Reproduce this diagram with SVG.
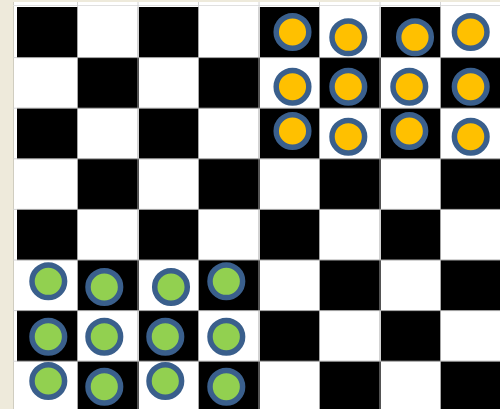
<svg xmlns="http://www.w3.org/2000/svg" width="500" height="409" viewBox="0 0 500 409">
<defs>
<style>
.grid{stroke:#a6a6a6;stroke-width:1;fill:none}
.tick{stroke:#d4d4d4;stroke-width:1;fill:none}
.y{fill:#ffc000;stroke:#3a5f8c;stroke-width:5.5}
.g{fill:#92d050;stroke:#3a5f8c;stroke-width:5.5}
</style>
<pattern id="board" x="17" y="7" width="121" height="101.2" patternUnits="userSpaceOnUse">
<rect width="121" height="101.2" fill="#fff"/>
<rect x="0" y="0" width="60.5" height="50.6" fill="#000"/>
<rect x="60.5" y="50.6" width="60.5" height="50.6" fill="#000"/>
</pattern>
</defs>
<rect width="500" height="409" fill="#fff"/>
<rect x="0" y="0" width="13" height="409" fill="#eeeadb"/>
<rect x="0" y="0" width="500" height="2" fill="#eeeadb"/>
<line x1="13.5" y1="2" x2="13.5" y2="409" stroke="#d0cdc0"/>
<line x1="13" y1="5.5" x2="500" y2="5.5" stroke="#e0e0e0"/>
<g id="header-ticks" class="tick">
<path d="M77.5 2V7M138 2V7M198.5 2V7M259 2V7M319.5 2V7M380 2V7M440.5 2V7M13 57.6H17M13 108.2H17M13 158.8H17M13 209.4H17M13 260H17M13 310.6H17M13 361.2H17"/>
</g>
<g id="board-squares">
<rect x="17" y="7" width="483" height="402" fill="url(#board)"/>
</g>
<g id="grid" class="grid">
<path d="M77.5 7V409M138 7V409M198.5 7V409M259 7V409M319.5 7V409M380 7V409M440.5 7V409M17 57.6H500M17 108.2H500M17 158.8H500M17 209.4H500M17 260H500M17 310.6H500M17 361.2H500"/>
</g>
<g id="yellow-pieces">
<circle id="y1" class="y" cx="292.5" cy="32" r="16.3"/>
<circle id="y2" class="y" cx="348.3" cy="37.3" r="16.3"/>
<circle id="y3" class="y" cx="415" cy="37.3" r="16.3"/>
<circle id="y4" class="y" cx="470.7" cy="32" r="16.3"/>
<circle id="y5" class="y" cx="292.5" cy="86.7" r="16.3"/>
<circle id="y6" class="y" cx="348.3" cy="86.7" r="16.3"/>
<circle id="y7" class="y" cx="409.3" cy="86.7" r="16.3"/>
<circle id="y8" class="y" cx="470.7" cy="86.7" r="16.3"/>
<circle id="y9" class="y" cx="292.5" cy="131" r="16.3"/>
<circle id="y10" class="y" cx="348.3" cy="136.7" r="16.3"/>
<circle id="y11" class="y" cx="409.3" cy="131" r="16.3"/>
<circle id="y12" class="y" cx="470.7" cy="136.7" r="16.3"/>
</g>
<g id="green-pieces">
<circle id="g1" class="g" cx="48.3" cy="281.3" r="16.3"/>
<circle id="g2" class="g" cx="104.3" cy="287" r="16.3"/>
<circle id="g3" class="g" cx="171" cy="287" r="16.3"/>
<circle id="g4" class="g" cx="226.3" cy="281.3" r="16.3"/>
<circle id="g5" class="g" cx="48.3" cy="336.7" r="16.3"/>
<circle id="g6" class="g" cx="104.3" cy="336.7" r="16.3"/>
<circle id="g7" class="g" cx="165.3" cy="336.7" r="16.3"/>
<circle id="g8" class="g" cx="226.3" cy="336.7" r="16.3"/>
<circle id="g9" class="g" cx="48.3" cy="381" r="16.3"/>
<circle id="g10" class="g" cx="104.3" cy="386.7" r="16.3"/>
<circle id="g11" class="g" cx="165.3" cy="381" r="16.3"/>
<circle id="g12" class="g" cx="226.3" cy="386.7" r="16.3"/>
</g>
</svg>
